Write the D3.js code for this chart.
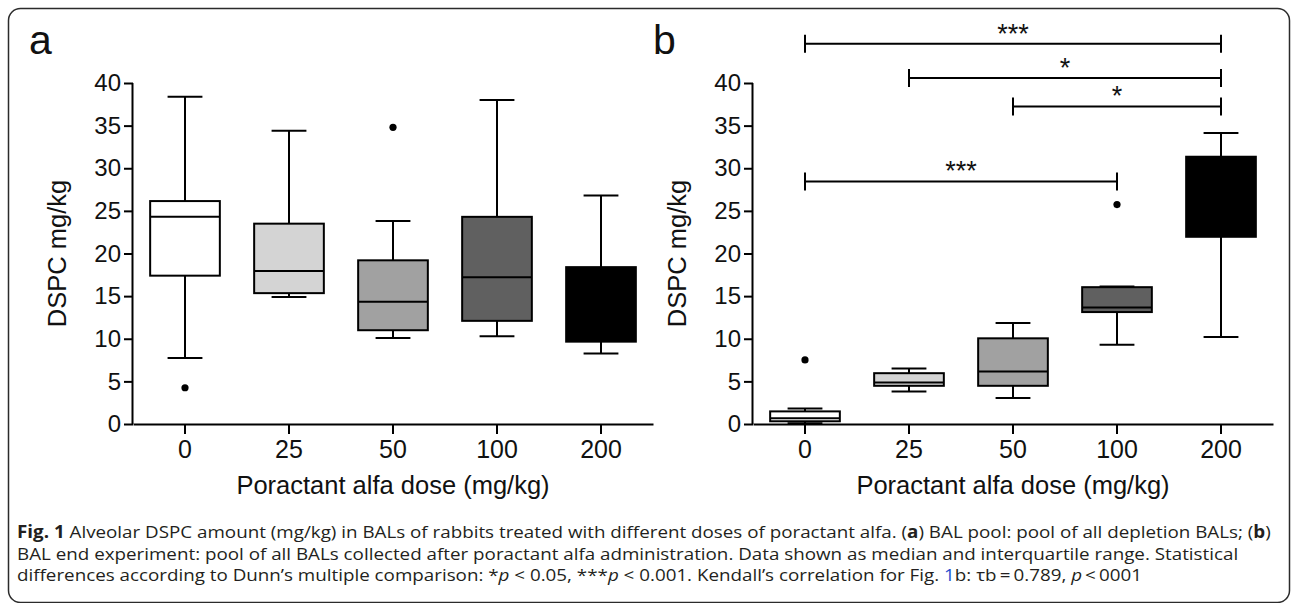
<!DOCTYPE html>
<html>
<head>
<meta charset="utf-8">
<script src="https://cdn.jsdelivr.net/npm/d3@7"></script>
<style>
  html, body { margin: 0; padding: 0; background: #fff; }
  svg { display: block; }
</style>
</head>
<body>
<svg id="chart" width="1293" height="603"></svg>
<script>
// ---------------- DATA ----------------
const doses = ["0", "25", "50", "100", "200"];
const yTicks = [0, 5, 10, 15, 20, 25, 30, 35, 40];

// Panel a: BAL pool
const aWhiskerLow  = [7.75, 14.9, 10.1, 10.3, 8.26];
const aQ1          = [17.4, 15.35, 11.0, 12.1, 9.66];
const aMedian      = [24.3, 17.95, 14.35, 17.2, 14.0];
const aQ3          = [26.15, 23.5, 19.2, 24.3, 18.4];
const aWhiskerHigh = [38.4, 34.4, 23.8, 38.0, 26.8];
const aOutlierDose  = ["0", "50"];
const aOutlierValue = [4.25, 34.8];

// Panel b: BAL end experiment
const bWhiskerLow  = [0.1, 3.8, 3.05, 9.3, 10.2];
const bQ1          = [0.32, 4.48, 4.48, 13.13, 21.96];
const bMedian      = [0.68, 4.87, 6.15, 13.67, 26.5];
const bQ3          = [1.48, 5.96, 10.05, 16.05, 31.35];
const bWhiskerHigh = [1.82, 6.5, 11.84, 16.12, 34.13];
const bOutlierDose  = ["0", "100"];
const bOutlierValue = [7.52, 25.74];

// Significance brackets (panel b)
const bracketFrom  = ["0", "25", "50", "0"];
const bracketTo    = ["200", "200", "200", "100"];
const bracketY     = [44.6, 40.6, 37.25, 28.45];
const bracketLabel = ["***", "*", "*", "***"];

const yTitle = "DSPC mg/kg";
const xTitle = "Poractant alfa dose (mg/kg)";

// ---------------- STYLE ----------------
const boxFills = ["#ffffff", "#d4d4d4", "#a1a1a1", "#606060", "#000000"];
const FONT = "'Liberation Sans', Arial, Helvetica, sans-serif";
const INK = "#000";

const svg = d3.select("#chart");

// outer rounded border
svg.append("rect")
  .attr("x", 8.5).attr("y", 8.5)
  .attr("width", 1281).attr("height", 594)
  .attr("rx", 12).attr("ry", 12)
  .attr("fill", "none").attr("stroke", "#2b2b2b").attr("stroke-width", 1.5);

const yRange = [424, 83];

function drawPanel(opt) {
  const g = svg.append("g");
  const x = d3.scaleBand().domain(doses).range([opt.x0, opt.x0 + 520]).padding(0.33).paddingOuter(0.165);
  const xc = d => x(d) + x.bandwidth() / 2;
  const y = d3.scaleLinear().domain([0, 40]).range(yRange);

  // panel letter
  g.append("text").attr("x", opt.letterX).attr("y", 54)
    .attr("font-family", FONT).attr("font-size", 41).attr("fill", "#111")
    .text(opt.letter);

  // y axis
  const yAxis = g.append("g").attr("transform", `translate(${opt.x0},0)`)
    .call(d3.axisLeft(y).tickValues(yTicks).tickSize(9).tickPadding(3).tickFormat(d3.format("d")));
  yAxis.select(".domain").attr("stroke", INK).attr("stroke-width", 2).attr("d", `M-0.5,${y(0)}V${y(40)}`);
  yAxis.selectAll(".tick line").attr("stroke", INK).attr("stroke-width", 2);
  yAxis.selectAll(".tick text").attr("font-family", FONT).attr("font-size", 24).attr("fill", "#111");

  // x axis
  const xAxis = g.append("g").attr("transform", `translate(0,${y(0)})`)
    .call(d3.axisBottom(x).tickSize(10).tickPadding(6).tickSizeOuter(0));
  xAxis.select(".domain").attr("stroke", INK).attr("stroke-width", 2);
  xAxis.selectAll(".tick line").attr("stroke", INK).attr("stroke-width", 2);
  xAxis.selectAll(".tick text").attr("font-family", FONT).attr("font-size", 25).attr("fill", "#111");

  // titles
  g.append("text")
    .attr("transform", `translate(${opt.x0 - 76},${(yRange[0] + yRange[1]) / 2}) rotate(-90)`)
    .attr("text-anchor", "middle").attr("dominant-baseline", "central")
    .attr("font-family", FONT).attr("font-size", 25.5).attr("fill", "#111")
    .text(yTitle);
  g.append("text")
    .attr("x", opt.x0 + 260).attr("y", 494)
    .attr("text-anchor", "middle")
    .attr("font-family", FONT).attr("font-size", 25.5).attr("fill", "#111")
    .text(xTitle);

  const rows = doses.map((d, i) => ({
    dose: d, lo: opt.lo[i], q1: opt.q1[i], med: opt.med[i], q3: opt.q3[i], hi: opt.hi[i], fill: boxFills[i]
  }));
  const bw = x.bandwidth();
  const boxes = g.append("g").selectAll("g").data(rows).join("g");
  // whisker stems
  boxes.append("line")
    .attr("x1", d => xc(d.dose)).attr("x2", d => xc(d.dose))
    .attr("y1", d => y(d.hi)).attr("y2", d => y(d.lo))
    .attr("stroke", INK).attr("stroke-width", 2);
  // caps
  boxes.append("line")
    .attr("x1", d => xc(d.dose) - bw / 4).attr("x2", d => xc(d.dose) + bw / 4)
    .attr("y1", d => y(d.hi)).attr("y2", d => y(d.hi))
    .attr("stroke", INK).attr("stroke-width", 2);
  boxes.append("line")
    .attr("x1", d => xc(d.dose) - bw / 4).attr("x2", d => xc(d.dose) + bw / 4)
    .attr("y1", d => y(d.lo)).attr("y2", d => y(d.lo))
    .attr("stroke", INK).attr("stroke-width", 2);
  // box
  boxes.append("rect")
    .attr("x", d => x(d.dose)).attr("width", bw)
    .attr("y", d => y(d.q3)).attr("height", d => y(d.q1) - y(d.q3))
    .attr("fill", d => d.fill).attr("stroke", INK).attr("stroke-width", 2);
  // median (hidden on the black box, as in the original)
  boxes.filter(d => d.fill !== "#000000").append("line")
    .attr("x1", d => x(d.dose)).attr("x2", d => x(d.dose) + bw)
    .attr("y1", d => y(d.med)).attr("y2", d => y(d.med))
    .attr("stroke", INK).attr("stroke-width", 2);

  // outliers
  const outl = opt.outDose.map((d, i) => ({ dose: d, v: opt.outVal[i] }));
  g.append("g").selectAll("circle").data(outl).join("circle")
    .attr("cx", d => xc(d.dose)).attr("cy", d => y(d.v)).attr("r", 3.6)
    .attr("fill", INK);

  return { x, xc, y, g };
}

drawPanel({
  x0: 133, letter: "a", letterX: 29,
  lo: aWhiskerLow, q1: aQ1, med: aMedian, q3: aQ3, hi: aWhiskerHigh,
  outDose: aOutlierDose, outVal: aOutlierValue
});

const pb = drawPanel({
  x0: 753, letter: "b", letterX: 653,
  lo: bWhiskerLow, q1: bQ1, med: bMedian, q3: bQ3, hi: bWhiskerHigh,
  outDose: bOutlierDose, outVal: bOutlierValue
});

// significance brackets
const brackets = bracketFrom.map((f, i) => ({ from: f, to: bracketTo[i], v: bracketY[i], label: bracketLabel[i] }));
const bg = pb.g.append("g");
brackets.forEach(b => {
  const x1 = pb.xc(b.from), x2 = pb.xc(b.to), yy = pb.y(b.v);
  bg.append("path")
    .attr("d", `M${x1},${yy - 9}V${yy + 9}M${x1},${yy}H${x2}M${x2},${yy - 9}V${yy + 9}`)
    .attr("fill", "none").attr("stroke", INK).attr("stroke-width", 2);
  bg.append("text")
    .attr("x", (x1 + x2) / 2).attr("y", yy - 1)
    .attr("text-anchor", "middle")
    .attr("font-family", FONT).attr("font-size", 27).attr("fill", "#111")
    .text(b.label);
});

// ---------------- CAPTION ----------------
const capFont = "'Open Sans', 'Noto Sans', sans-serif";
const cap = svg.append("g").attr("font-family", capFont).attr("font-size", 17).attr("fill", "#231f20");
const lines = [
  [["Fig. 1", "b"], [" Alveolar DSPC amount (mg/kg) in BALs of rabbits treated with different doses of poractant alfa. ("], ["a", "b"], [") BAL pool: pool of all depletion BALs; ("], ["b", "b"], [")"]],
  [["BAL end experiment: pool of all BALs collected after poractant alfa administration. Data shown as median and interquartile range. Statistical"]],
  [["differences according to Dunn\u2019s multiple comparison: *"], ["p", "i"], [" < 0.05, ***"], ["p", "i"], [" < 0.001. Kendall\u2019s correlation for Fig. "], ["1", "blue"], ["b: \u03c4b\u2009=\u20090.789, "], ["p", "i"], ["\u2009<\u20090001"]]
];
const baselines = [538, 560, 581];
const capG = cap.append("g");
lines.forEach((ln, i) => {
  const t = capG.append("text").attr("x", 0).attr("y", baselines[i]);
  ln.forEach(seg => {
    const s = t.append("tspan").text(seg[0]);
    if (seg[1] === "b") s.attr("font-weight", "bold");
    if (seg[1] === "i") s.attr("font-style", "italic");
    if (seg[1] === "blue") s.attr("fill", "#1f4fd0");
  });
});
// fit first caption line to the measured width
const firstW = capG.select("text").node().getComputedTextLength();
const sx = 1255 / firstW;
capG.attr("transform", `translate(17,0) scale(${sx},1)`);
</script>
</body>
</html>
